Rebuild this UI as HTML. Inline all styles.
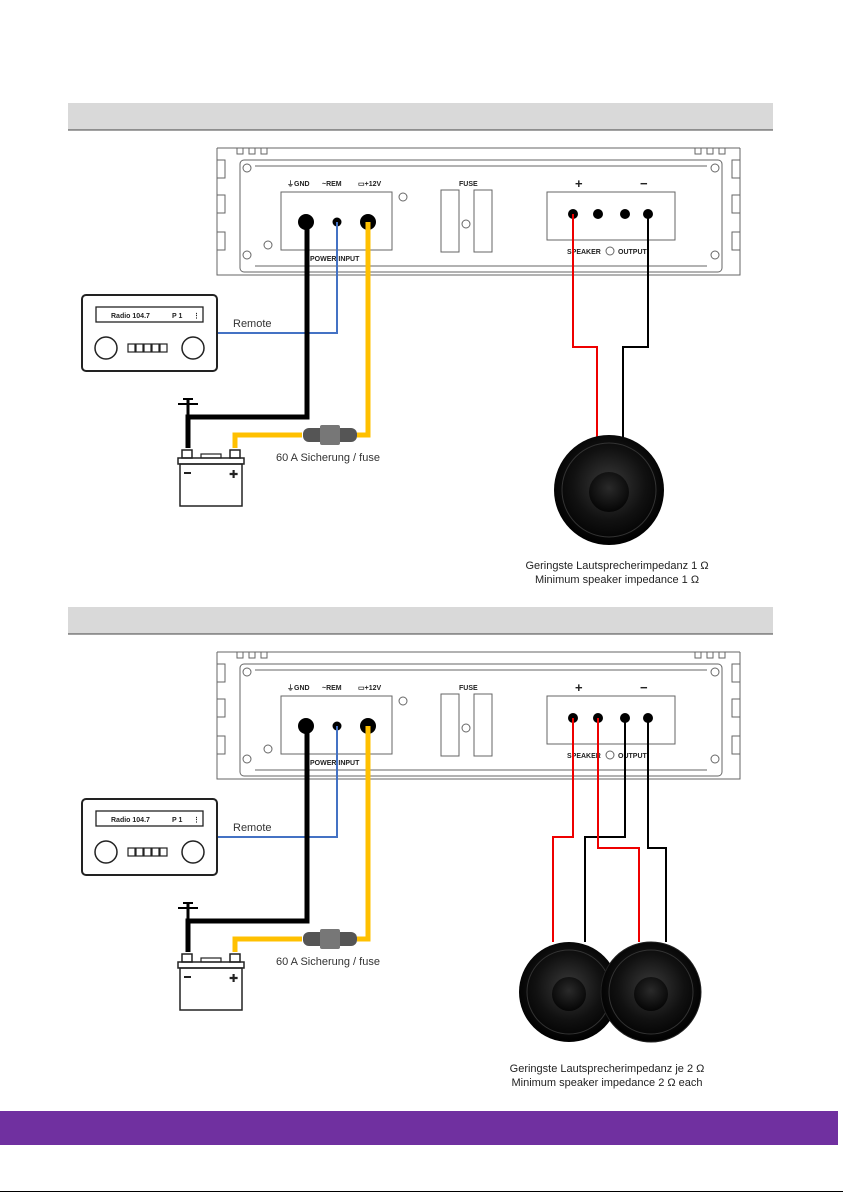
<!DOCTYPE html>
<html><head><meta charset="utf-8"><style>
html,body{margin:0;padding:0;background:#fff;}
svg{display:block;}
text{font-family:"Liberation Sans",sans-serif;}
</style></head><body>
<svg width="843" height="1192" viewBox="0 0 843 1192" xmlns="http://www.w3.org/2000/svg">
<defs>
<radialGradient id="spk" cx="50%" cy="45%" r="55%">
<stop offset="0" stop-color="#3a3a3a"/><stop offset="0.6" stop-color="#111"/><stop offset="1" stop-color="#000"/>
</radialGradient>
<radialGradient id="dome" cx="50%" cy="40%" r="60%">
<stop offset="0" stop-color="#2a2a2a"/><stop offset="1" stop-color="#050505"/>
</radialGradient>
<g id="common">
  <rect x="68" y="103" width="705" height="27" fill="#d9d9d9"/>
  <line x1="68" y1="130" x2="773" y2="130" stroke="#444" stroke-width="1"/>
  <g fill="none" stroke="#666" stroke-width="1">
    <path d="M217,148 L740,148 M217,148 L217,275 L740,275 L740,148"/>
    <path d="M217,160 h8 v18 h-8 M217,195 h8 v18 h-8 M217,232 h8 v18 h-8 M740,160 h-8 v18 h8 M740,195 h-8 v18 h8 M740,232 h-8 v18 h8"/>
    <path d="M237,148 v6 h6 v-6 M249,148 v6 h6 v-6 M261,148 v6 h6 v-6 M695,148 v6 h6 v-6 M707,148 v6 h6 v-6 M719,148 v6 h6 v-6"/>
    <rect x="240" y="160" width="482" height="112" rx="4"/>
    <path d="M255,166 h452 M255,266 h452"/>
    <circle cx="247" cy="168" r="4"/><circle cx="715" cy="168" r="4"/>
    <circle cx="247" cy="255" r="4"/><circle cx="715" cy="255" r="4"/>
    <rect x="281" y="192" width="111" height="58"/>
    <circle cx="403" cy="197" r="4"/><circle cx="268" cy="245" r="4"/>
    <rect x="441" y="190" width="18" height="62"/><rect x="474" y="190" width="18" height="62"/>
    <circle cx="466" cy="224" r="4"/>
    <rect x="547" y="192" width="128" height="48"/>
    <circle cx="610" cy="251" r="4"/>
  </g>
  <g font-size="7" font-weight="bold" fill="#222">
    <text x="287" y="186">⏚GND</text>
    <text x="322" y="186">~REM</text>
    <text x="358" y="186">▭+12V</text>
    <text x="459" y="186">FUSE</text>
    <text x="310" y="261">POWER INPUT</text>
    <text x="567" y="254">SPEAKER</text>
    <text x="618" y="254">OUTPUT</text>
  </g>
  <text x="575" y="188" font-size="13" font-weight="bold" fill="#222">+</text>
  <text x="640" y="188" font-size="13" font-weight="bold" fill="#222">−</text>
  <circle cx="306" cy="222" r="8" fill="#000"/>
  <circle cx="337" cy="222" r="4.5" fill="#000"/>
  <circle cx="368" cy="222" r="8" fill="#000"/>
  <circle cx="573" cy="214" r="5" fill="#000"/><circle cx="598" cy="214" r="5" fill="#000"/>
  <circle cx="625" cy="214" r="5" fill="#000"/><circle cx="648" cy="214" r="5" fill="#000"/>
  <rect x="82" y="295" width="135" height="76" rx="4" fill="#fff" stroke="#222" stroke-width="2"/>
  <rect x="96" y="307" width="107" height="15" fill="none" stroke="#222" stroke-width="1.3"/>
  <text x="111" y="318" font-size="7" font-weight="bold" fill="#222">Radio 104.7</text>
  <text x="172" y="318" font-size="7" font-weight="bold" fill="#222">P 1</text>
  <text x="193" y="318" font-size="7" font-weight="bold" fill="#222">⋮</text>
  <circle cx="106" cy="348" r="11" fill="none" stroke="#222" stroke-width="1.5"/>
  <circle cx="193" cy="348" r="11" fill="none" stroke="#222" stroke-width="1.5"/>
  <g fill="none" stroke="#222" stroke-width="1.2">
    <rect x="128" y="344" width="7" height="8"/><rect x="136" y="344" width="7" height="8"/><rect x="144" y="344" width="7" height="8"/><rect x="152" y="344" width="7" height="8"/><rect x="160" y="344" width="7" height="8"/>
  </g>
  <text x="233" y="327" font-size="11" fill="#333">Remote</text>
  <polyline points="337,222 337,333 218,333" fill="none" stroke="#4472c4" stroke-width="2"/>
  <polyline points="307,222 307,417 188,417 188,452" fill="none" stroke="#000" stroke-width="5"/>
  <polyline points="368,222 368,435 357,435" fill="none" stroke="#ffc000" stroke-width="5"/>
  <polyline points="302,435 235,435 235,452" fill="none" stroke="#ffc000" stroke-width="5"/>
  <line x1="188" y1="398" x2="188" y2="417" stroke="#000" stroke-width="3"/>
  <line x1="178" y1="404" x2="198" y2="404" stroke="#000" stroke-width="2"/>
  <line x1="183" y1="399" x2="193" y2="399" stroke="#000" stroke-width="2"/>
  <rect x="303" y="428" width="54" height="14" rx="6" fill="#555"/>
  <rect x="320" y="425" width="20" height="20" rx="2" fill="#777"/>
  <rect x="172" y="448" width="74" height="64" fill="#fff"/>
  <rect x="182" y="450" width="10" height="8" fill="none" stroke="#222" stroke-width="1.5"/>
  <rect x="230" y="450" width="10" height="8" fill="none" stroke="#222" stroke-width="1.5"/>
  <rect x="178" y="458" width="66" height="6" fill="none" stroke="#222" stroke-width="1.5"/>
  <rect x="180" y="464" width="62" height="42" fill="none" stroke="#222" stroke-width="1.5"/>
  <rect x="201" y="454" width="20" height="4" fill="none" stroke="#222" stroke-width="1.2"/>
  <line x1="184" y1="473" x2="191" y2="473" stroke="#222" stroke-width="2"/>
  <text x="229" y="478" font-size="11" fill="#222">✚</text>
  <text x="276" y="461" font-size="11" fill="#333">60 A Sicherung / fuse</text>
</g>
</defs>

<use href="#common"/>
<use href="#common" transform="translate(0,504)"/>

<polyline points="573,214 573,347 597,347 597,440" fill="none" stroke="#e00" stroke-width="2"/>
<polyline points="648,214 648,347 623,347 623,440" fill="none" stroke="#000" stroke-width="2"/>
<circle cx="609" cy="490" r="55" fill="url(#spk)"/>
<circle cx="609" cy="490" r="47" fill="none" stroke="#333" stroke-width="1"/>
<circle cx="609" cy="492" r="20" fill="url(#dome)"/>
<text x="617" y="569" font-size="11" fill="#222" text-anchor="middle">Geringste Lautsprecherimpedanz 1 Ω</text>
<text x="617" y="583" font-size="11" fill="#222" text-anchor="middle">Minimum speaker impedance 1 Ω</text>

<polyline points="573,718 573,837 553,837 553,942" fill="none" stroke="#e00" stroke-width="2"/>
<polyline points="625,718 625,837 585,837 585,942" fill="none" stroke="#000" stroke-width="2"/>
<polyline points="598,718 598,848 639,848 639,942" fill="none" stroke="#e00" stroke-width="2"/>
<polyline points="648,718 648,848 666,848 666,942" fill="none" stroke="#000" stroke-width="2"/>
<circle cx="569" cy="992" r="50" fill="url(#spk)"/>
<circle cx="569" cy="992" r="42" fill="none" stroke="#333"/>
<circle cx="569" cy="994" r="17" fill="url(#dome)"/>
<circle cx="651" cy="992" r="50" fill="url(#spk)" stroke="#222"/>
<circle cx="651" cy="992" r="42" fill="none" stroke="#333"/>
<circle cx="651" cy="994" r="17" fill="url(#dome)"/>
<text x="607" y="1072" font-size="11" fill="#222" text-anchor="middle">Geringste Lautsprecherimpedanz je 2 Ω</text>
<text x="607" y="1086" font-size="11" fill="#222" text-anchor="middle">Minimum speaker impedance 2 Ω each</text>

<rect x="0" y="1111" width="838" height="34" fill="#7030a0"/>
<line x1="0" y1="1191.5" x2="843" y2="1191.5" stroke="#000" stroke-width="1"/>
</svg>
</body></html>
